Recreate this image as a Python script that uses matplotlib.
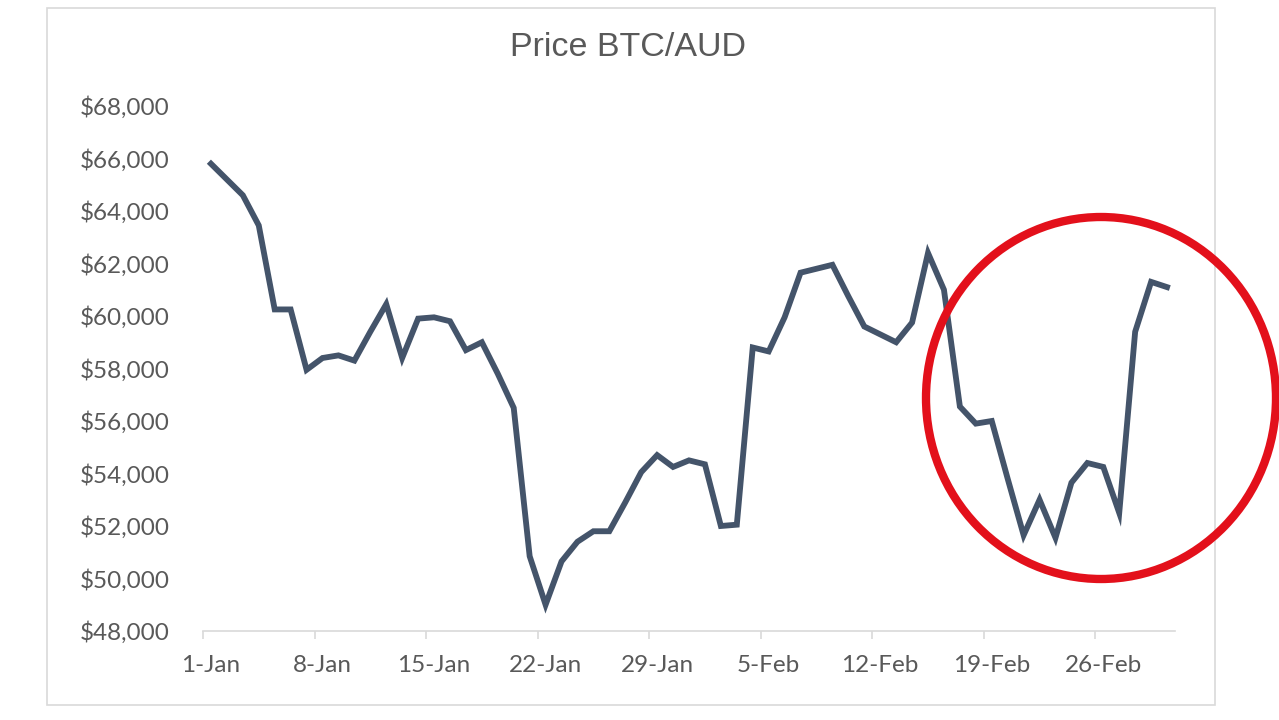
import numpy as np
import matplotlib
matplotlib.use("Agg")
import matplotlib.pyplot as plt
from matplotlib.patches import Ellipse, Rectangle
from matplotlib.ticker import FuncFormatter

# daily BTC/AUD close, 1-Jan to 2-Mar
days = np.arange(61)
prices = [65800, 65200, 64600, 63450, 60250, 60250, 57950, 58400, 58500, 58300,
          59400, 60450, 58400, 59900, 59950, 59800, 58700, 59000, 57800, 56500,
          50850, 49000, 50650, 51400, 51800, 51800, 52900, 54050, 54700, 54250,
          54500, 54350, 52000, 52050, 58800, 58650, 59950, 61650, 61800, 61950,
          60750, 59600, 59300, 59000, 59750, 62400, 61000, 56550, 55900, 56000,
          53800, 51650, 53000, 51550, 53650, 54400, 54250, 52500, 59400, 61300, 61100]

tick_days = [0, 7, 14, 21, 28, 35, 42, 49, 56]
tick_labels = ["1-Jan", "8-Jan", "15-Jan", "22-Jan", "29-Jan",
               "5-Feb", "12-Feb", "19-Feb", "26-Feb"]

plt.rcParams['font.family'] = ['Lato', 'DejaVu Sans']
text_col = "#595959"

fig = plt.figure(figsize=(12.79, 7.2), dpi=100)
fig.patch.set_facecolor("white")

# chart frame
fig.add_artist(Rectangle((47/1279, 1 - 705/720), (1215-47)/1279, (705-8)/720,
                         transform=fig.transFigure, fill=False,
                         edgecolor="#D9D9D9", linewidth=1.2))

ax = fig.add_axes([203/1279, 1 - 631/720, (1175-203)/1279, (631-106)/720])
ax.plot(days, prices, color="#44546A", linewidth=4.2, solid_joinstyle="miter")

ax.set_xlim(-0.5, 60.5)
ax.set_ylim(48000, 68000)
ax.set_yticks(np.arange(48000, 68001, 2000))
ax.yaxis.set_major_formatter(FuncFormatter(lambda v, p: f"${v:,.0f}"))

ax.set_xticks(tick_days)
ax.set_xticklabels(tick_labels)
ax.set_xticks(np.array(tick_days) - 0.5, minor=True)
ax.tick_params(axis="x", which="major", length=0, pad=17, labelsize=17.5, labelcolor=text_col)
ax.tick_params(axis="x", which="minor", length=6, width=1.2, color="#D9D9D9")
ax.tick_params(axis="y", length=0, pad=24, labelsize=17.5, labelcolor=text_col)

for s in ["top", "right", "left"]:
    ax.spines[s].set_visible(False)
ax.spines["bottom"].set_color("#D9D9D9")
ax.spines["bottom"].set_linewidth(1.2)

fig.text(628/1279, 1 - 47/720, "Price BTC/AUD", ha="center", va="center",
         fontsize=24.5, color=text_col, family=["Liberation Sans", "DejaVu Sans"])

# red highlight circle
fig.add_artist(Ellipse((1101/1279, 1 - 398/720), 350/1279, 362/720,
                       transform=fig.transFigure, fill=False,
                       edgecolor="#E3101B", linewidth=6))

fig.savefig("out.png", dpi=100)
